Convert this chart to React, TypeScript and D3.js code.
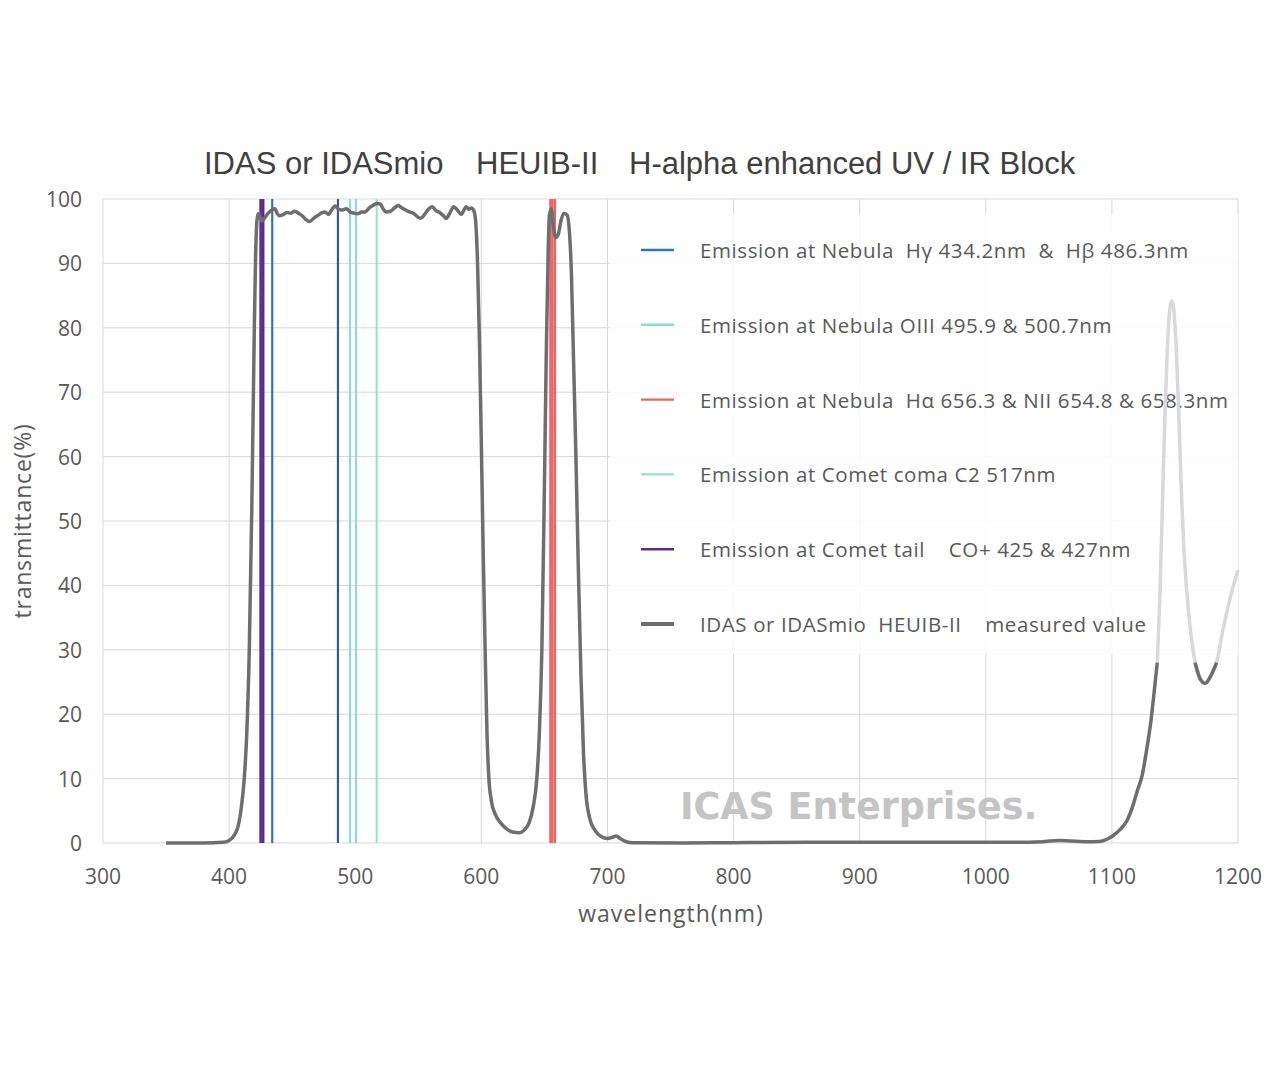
import { useEffect } from 'react'
import * as d3 from 'd3'

// measured transmittance of the filter (nm, %)
const wavelengths = [
  350, 380, 395, 400, 404, 407, 410, 412, 414, 416, 418, 420, 421, 422, 423, 424.5, 426, 428, 431, 434,
  436.4, 438, 440, 443, 446, 449, 452, 455, 458, 461, 464, 467, 470, 473, 476, 479, 481, 484, 487, 490,
  493, 496, 499, 502, 505, 508, 511, 514, 517, 520, 522, 525, 528, 531, 534, 537, 540, 543, 546, 549,
  552, 555, 558, 561, 564, 567, 570, 572, 575, 578, 581, 584, 586, 588, 590, 592, 594, 595.5, 597, 598.5,
  600, 601.5, 603, 604.5, 606, 608, 611, 615, 620, 625, 630, 634, 638, 641, 644, 646, 648, 650, 651.5, 653,
  654, 655.5, 657, 659, 661, 663, 665.5, 668, 670, 671.5, 673, 675, 677, 679, 681, 683, 686, 690, 695, 700,
  704, 707, 710, 715, 720, 760, 800, 860, 920, 980, 1020, 1045, 1058, 1068, 1080, 1090, 1095, 1100, 1106, 1112,
  1117, 1120, 1124, 1128, 1131, 1133, 1136, 1138, 1140, 1142, 1144, 1146, 1147.5, 1149, 1151, 1153, 1155, 1157, 1159, 1162,
  1166, 1170, 1174, 1178, 1183, 1188, 1195, 1200
]
const transmittance = [
  0, 0, 0.1, 0.4, 1.2, 2.5, 6, 10, 17, 30, 52, 80, 91, 96.5, 97.7, 97.3, 96.6, 97, 97.8, 98.3,
  98.5, 97.8, 97.4, 97.6, 97.9, 97.8, 98.1, 97.8, 97.4, 96.8, 96.5, 97, 97.4, 97.8, 98, 97.6, 98.2, 98.9, 98.4, 98.3,
  98.5, 98, 97.8, 97.7, 98, 98, 98.6, 99, 99.3, 99.2, 98.5, 98, 98.1, 98.6, 99, 98.6, 98.3, 98, 97.8, 97.3,
  97, 97.6, 98.4, 98.8, 98.2, 97.9, 97.4, 97, 97.8, 98.8, 98.3, 97.6, 98.2, 98.8, 98.4, 98.6, 98.2, 96.5, 90, 78,
  62, 45, 30, 17, 10, 6.5, 4.5, 3.2, 2.2, 1.7, 1.6, 2, 3.2, 5.5, 10, 17, 30, 55, 76, 92,
  97.5, 98.5, 96, 94, 94.5, 96.5, 97.8, 97.5, 94.5, 88, 76, 60, 42, 26, 14, 7.5, 3.8, 2, 1, 0.7,
  0.9, 1.1, 0.7, 0.2, 0.05, 0, 0.05, 0.1, 0.1, 0.1, 0.1, 0.2, 0.4, 0.3, 0.2, 0.25, 0.5, 1, 2, 3.5,
  6, 8, 10.5, 15, 19, 22.5, 28, 38, 52, 66, 77, 83, 84.2, 83, 77, 67, 55, 46, 40, 33.6,
  28, 25.5, 24.8, 25.8, 28, 33, 39, 42.4
]

// emission lines (nm)
const nebulaHydrogen = [434.2, 486.3]
const nebulaOIII = [495.9, 500.7]
const nebulaHalpha = [654.8, 656.3, 658.3]
const cometC2 = [517]
const cometCO = [425, 427]

const xTicks = [300, 400, 500, 600, 700, 800, 900, 1000, 1100, 1200]
const yTicks = [0, 10, 20, 30, 40, 50, 60, 70, 80, 90, 100]

const legendLabels = [
  'Emission at Nebula  Hγ 434.2nm  &  Hβ 486.3nm',
  'Emission at Nebula OIII 495.9 & 500.7nm',
  'Emission at Nebula  Hα 656.3 & NII 654.8 & 658.3nm',
  'Emission at Comet coma C2 517nm',
  'Emission at Comet tail    CO+ 425 & 427nm',
  'IDAS or IDASmio  HEUIB-II    measured value'
]

const colors = {
  hydrogen: '#2e75b6',
  hbeta: '#2b5f8e',
  oiii: '#86dbe4',
  halpha: '#f06262',
  c2: '#93e3cc',
  co: '#5b2a96',
  curve: '#6e6e6e',
  curveLight: '#d9d9d9',
  grid: '#d9d9d9',
  text: '#595959'
}

const uiFont = '"Open Sans", "Noto Sans", sans-serif'

type Pt = { w: number; t: number }

export default function App() {
  useEffect(() => {
    document.body.style.margin = '0'
  }, [])

  const x = d3.scaleLinear().domain([300, 1200]).range([103, 1238])
  const y = d3.scaleLinear().domain([0, 100]).range([843, 199])

  const points: Pt[] = wavelengths.map((w, i) => ({ w, t: transmittance[i] }))

  const lightLine = d3
    .line<Pt>()
    .x(d => x(d.w))
    .y(d => y(d.t))
    .curve(d3.curveMonotoneX)
    .defined(d => d.w >= 1136)
  const darkLine = d3
    .line<Pt>()
    .x(d => x(d.w))
    .y(d => y(d.t))
    .curve(d3.curveMonotoneX)
    .defined(d => d.w <= 1136 || (d.w >= 1166 && d.w <= 1183))

  const vline = (w: number, color: string, width: number, key: string) => (
    <line key={key} x1={x(w)} x2={x(w)} y1={y(0)} y2={y(100)} stroke={color} strokeWidth={width} />
  )

  const legendColors = [colors.hydrogen, colors.oiii, colors.halpha, colors.c2, colors.co, colors.curve]

  return (
    <svg width={1280} height={1067} style={{ display: 'block', background: '#fff' }}>
      {/* title */}
      <g fill="#404040" fontFamily='"Liberation Sans", Arial, sans-serif' fontSize={31}>
        <text x={204} y={174}>IDAS or IDASmio</text>
        <text x={476} y={174}>HEUIB-II</text>
        <text x={629} y={174}>H-alpha enhanced UV / IR Block</text>
      </g>

      {/* grid */}
      <g stroke={colors.grid} strokeWidth={1}>
        {yTicks.map(t => (
          <line key={'gy' + t} x1={x(300)} x2={x(1200)} y1={y(t)} y2={y(t)} />
        ))}
        {xTicks.map(t => (
          <line key={'gx' + t} x1={x(t)} x2={x(t)} y1={y(0)} y2={y(100)} />
        ))}
      </g>

      {/* tick labels */}
      <g fill={colors.text} fontFamily={uiFont} fontSize={21}>
        {yTicks.map(t => (
          <text key={'ty' + t} x={82} y={y(t)} textAnchor="end" dominantBaseline="central">
            {t}
          </text>
        ))}
        {xTicks.map(t => (
          <text key={'tx' + t} x={x(t)} y={876} textAnchor="middle" dominantBaseline="central">
            {t}
          </text>
        ))}
      </g>
      <text
        x={0}
        y={0}
        transform={`translate(22,${y(50)}) rotate(-90)`}
        textAnchor="middle"
        dominantBaseline="central"
        fill={colors.text}
        fontFamily={uiFont}
        fontSize={23}
        letterSpacing={0.8}
      >
        transmittance(%)
      </text>
      <text
        x={671}
        y={913}
        textAnchor="middle"
        dominantBaseline="central"
        fill={colors.text}
        fontFamily={uiFont}
        fontSize={23}
        letterSpacing={1}
      >
        wavelength(nm)
      </text>

      {/* legend box */}
      <rect x={610} y={214} width={628} height={440} fill="#fff" opacity={0.85} />
      {legendLabels.map((label, i) => {
        const ly = 250 + i * 74.8
        return (
          <g key={'lg' + i}>
            <line
              x1={641}
              x2={674}
              y1={ly}
              y2={ly}
              stroke={legendColors[i]}
              strokeWidth={i === 5 ? 4 : 2.4}
            />
            <text
              x={700}
              y={ly}
              dominantBaseline="central"
              fill={colors.text}
              fontFamily={uiFont}
              fontSize={20.5}
              letterSpacing={0.6}
              style={{ whiteSpace: 'pre' }}
            >
              {label}
            </text>
          </g>
        )
      })}

      {/* watermark */}
      <text
        x={680}
        y={819}
        fill="#c4c4c4"
        fontFamily='"DejaVu Sans", Verdana, sans-serif'
        fontWeight="bold"
        fontSize={36.5}
      >
        ICAS Enterprises.
      </text>

      {/* emission lines */}
      <g>
        {cometCO.map(w => vline(w, colors.co, 2.6, 'co' + w))}
        {nebulaHydrogen.map((w, i) => vline(w, i === 0 ? colors.hydrogen : colors.hbeta, 2.2, 'h' + w))}
        {nebulaOIII.map(w => vline(w, colors.oiii, 2, 'o' + w))}
        {cometC2.map(w => vline(w, colors.c2, 2, 'c2' + w))}
        {nebulaHalpha.map(w => vline(w, colors.halpha, 2.4, 'ha' + w))}
      </g>

      {/* measured curve */}
      <path d={lightLine(points) ?? ''} fill="none" stroke={colors.curveLight} strokeWidth={3.5} />
      <path d={darkLine(points) ?? ''} fill="none" stroke={colors.curve} strokeWidth={3.5} strokeLinejoin="round" />
    </svg>
  )
}
